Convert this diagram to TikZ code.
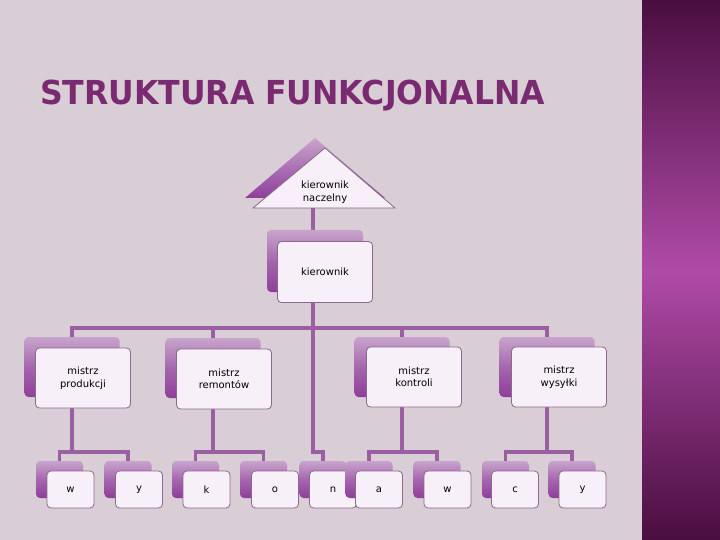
\documentclass[tikz,border=0pt]{standalone}
\usepackage{fontspec}
\setmainfont{DejaVu Sans}
\usetikzlibrary{positioning,backgrounds}

\pgfdeclarelayer{paper}
\pgfsetlayers{paper,background,main}

\definecolor{lilacbg}{HTML}{D9CDD6}
\definecolor{plumdark}{HTML}{4A0E40}
\definecolor{plumlight}{HTML}{B04BA8}
\definecolor{titleplum}{HTML}{7A2A70}
\definecolor{linkplum}{HTML}{9A5FA0}
\definecolor{boxedge}{HTML}{8A6A8A}
\definecolor{boxfill}{HTML}{F8F0F8}
\definecolor{backtop}{HTML}{C8A4CC}
\definecolor{backmid}{HTML}{A566AE}
\definecolor{backbot}{HTML}{8E3E9A}

\tikzset{
  front/.style={draw=boxedge, line width=0.8pt, rounded corners=4pt, fill=boxfill,
    align=center, inner sep=0pt, font=\fontsize{10}{12.5}\selectfont},
  back/.style={rounded corners=4pt, top color=backtop, bottom color=backbot,
    middle color=backmid, inner sep=0pt},
  bigbox/.style={minimum width=95pt, minimum height=60pt},
  smallbox/.style={minimum width=47pt, minimum height=37pt},
  link/.style={draw=linkplum, line width=3.5pt},
}

\begin{document}
\begin{tikzpicture}[x=1pt,y=-1pt]
  \useasboundingbox (0,0) rectangle (720,540);

  % page
  \begin{pgfonlayer}{paper}
    \fill[lilacbg] (0,0) rectangle (720,540);
    \shade[top color=plumdark, bottom color=plumdark, middle color=plumlight]
      (642,0) rectangle (720,540);
  \end{pgfonlayer}

  \node[anchor=base west, text=titleplum, inner sep=0pt, font=\fontsize{33}{36}\selectfont\bfseries]
    (title) at (40,105) {\scalebox{0.955}[1]{STRUKTURA FUNKCJONALNA}};

  % top
  \shade[top color=backtop, bottom color=backbot] (245,198) -- (315,138) -- (385,198) -- cycle;
  \filldraw[fill=boxfill, draw=boxedge, line width=0.8pt] (253,208) -- (325,148) -- (395,208) -- cycle;
  \node[align=center, font=\fontsize{10}{12.5}\selectfont] (nacz) at (325,192) {kierownik\\naczelny};
  \coordinate (naczbase) at (313,208);

  \node[back, minimum width=96pt, minimum height=62pt] (bkier) at (315,261) {};
  \node[front, minimum width=95pt, minimum height=61pt] (kier) at (325,272) {kierownik};

  % mistrzowie
  \node[back, bigbox] (bprod) at (72,367) {};
  \node[front, bigbox] (prod) at (83,378) {mistrz\\produkcji};
  \node[back, bigbox] (brem) at (213,368) {};
  \node[front, bigbox] (rem) at (224,379) {mistrz\\remontów};
  \node[back, bigbox] (bkon) at (402,367) {};
  \node[front, bigbox] (kon) at (414,377) {mistrz\\kontroli};
  \node[back, bigbox] (bwys) at (547,367) {};
  \node[front, bigbox] (wys) at (559,377) {mistrz\\wysyłki};

  % litery
  \node[back, smallbox] (bw1) at (59.5,479.5) {};
  \node[front, smallbox] (w1) at (70.5,489.5) {w};
  \node[back, smallbox] (by1) at (128,479.5) {};
  \node[front, smallbox] (y1) at (139,489.5) {y};
  \node[back, smallbox] (bk) at (195.5,479.5) {};
  \node[front, smallbox] (k) at (206.5,489.5) {k};
  \node[back, smallbox] (bo) at (263.5,479.5) {};
  \node[front, smallbox] (o) at (275,489.5) {o};
  \node[back, smallbox] (bn) at (323,479.5) {};
  \node[front, smallbox] (n) at (333,489.5) {n};
  \node[back, smallbox] (ba) at (369,479.5) {};
  \node[front, smallbox] (a) at (379,489.5) {a};
  \node[back, smallbox] (bw2) at (437,479.5) {};
  \node[front, smallbox] (w2) at (447.5,489.5) {w};
  \node[back, smallbox] (bc) at (505.5,479.5) {};
  \node[front, smallbox] (c) at (515,489.5) {c};
  \node[back, smallbox] (by2) at (572,479.5) {};
  \node[front, smallbox] (y2) at (582.5,489.5) {y};

  % connectors
  \coordinate (bus) at (313,328);
  \coordinate (fprod) at (72,452);
  \coordinate (frem) at (213,452);
  \coordinate (fn) at (313,452);
  \coordinate (fkon) at (402,452);
  \coordinate (fwys) at (547,452);
  \begin{pgfonlayer}{background}
    \draw[link] (naczbase) -- (naczbase |- bkier.north);
    \draw[link] (naczbase |- bkier.north) -- (bus);
    \draw[link] (bus) -| (bprod.north);
    \draw[link] (bus) -| (brem.north);
    \draw[link] (bus) -| (bkon.north);
    \draw[link] (bus) -| (bwys.north);
    \draw[link] (bus) -- (fn) -| (bn.north);
    \draw[link] (bprod) -- (fprod);
    \draw[link] (brem) -- (frem);
    \draw[link] (bkon) -- (fkon);
    \draw[link] (bwys) -- (fwys);
    \draw[link] (fprod) -| (bw1.north);
    \draw[link] (fprod) -| (by1.north);
    \draw[link] (frem) -| (bk.north);
    \draw[link] (frem) -| (bo.north);
    \draw[link] (fkon) -| (ba.north);
    \draw[link] (fkon) -| (bw2.north);
    \draw[link] (fwys) -| (bc.north);
    \draw[link] (fwys) -| (by2.north);
  \end{pgfonlayer}
\end{tikzpicture}
\end{document}
